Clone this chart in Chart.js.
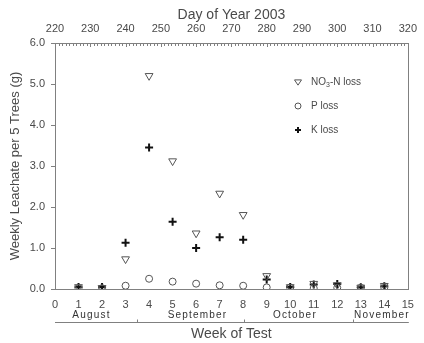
<!DOCTYPE html>
<html><head><meta charset="utf-8">
<script src="https://cdn.jsdelivr.net/npm/chart.js@4.4.0/dist/chart.umd.min.js"></script>
<style>html,body{margin:0;padding:0;background:#fff}#wrap{width:424px;height:343px}</style>
</head><body><div id="wrap"><canvas id="c" width="424" height="343"></canvas></div>
<script>
const weeks = [1,2,3,4,5,6,7,8,9,10,11,12,13,14];
const no3Loss = [0.05,0.03,0.73,5.2,3.12,1.36,2.33,1.81,0.32,0.05,0.13,0.1,0.04,0.08];
const pLoss   = [0.02,0.02,0.08,0.25,0.18,0.13,0.09,0.08,0.04,0.03,0.02,0.03,0.03,0.03];
const kLoss   = [0.05,0.05,1.13,3.45,1.64,1.0,1.26,1.2,0.23,0.05,0.11,0.12,0.04,0.07];
const seriesLabels = ['NO₃-N loss','P loss','K loss'];
const yTicks = [0,1,2,3,4,5,6];
const dayTicks = [220,230,240,250,260,270,280,290,300,310,320];
const months = ['August','September','October','November'];
const monthCenters = [1.55,6.06,10.2,13.9];
const monthDividers = [3.47,8.02,12.66];

const AXIS = '#808080', TEXT = '#4a4a4a', FONT = "'Liberation Sans', Arial, sans-serif";

const pts = arr => weeks.map((w,i)=>({x:w,y:arr[i]}));

const extras = {
  id:'extras',
  afterDraw(chart){
    const ctx = chart.ctx, a = chart.chartArea;
    const x = chart.scales.x, x2 = chart.scales.x2;
    ctx.save();
    ctx.strokeStyle = AXIS; ctx.lineWidth = 1;
    ctx.strokeRect(Math.round(a.left)+0.5, Math.round(a.top)+0.5, Math.round(a.right-a.left), Math.round(a.bottom-a.top));
    ctx.beginPath();
    for (let d = dayTicks[0]; d <= dayTicks[dayTicks.length-1]; d++) {
      const px = Math.round(x2.getPixelForValue(d))+0.5;
      const len = d % 10 === 0 ? 4 : 3;
      ctx.moveTo(px, a.top); ctx.lineTo(px, a.top+len);
    }
    ctx.stroke();
    ctx.fillStyle = '#333';
    ctx.font = "10px " + FONT;
    try { ctx.letterSpacing = '1.2px'; } catch(e){}
    ctx.textAlign = 'center'; ctx.textBaseline = 'middle';
    months.forEach((m,i)=>ctx.fillText(m, x.getPixelForValue(monthCenters[i]), 315));
    try { ctx.letterSpacing = '0px'; } catch(e){}
    const ly = 322.5;
    ctx.beginPath();
    ctx.moveTo(a.left, ly); ctx.lineTo(a.right+1, ly);
    monthDividers.forEach(w=>{ const px = Math.round(x.getPixelForValue(w))+0.5; ctx.moveTo(px, ly); ctx.lineTo(px, ly-3); });
    ctx.stroke();
    const rows = [82,106,130], mx = 298, tx = 311;
    chart.data.datasets.forEach((ds,i)=>{
      const y = rows[i];
      ctx.strokeStyle = ds.borderColor; ctx.lineWidth = ds.borderWidth;
      ctx.beginPath();
      if (ds.pointStyle === 'triangle') {
        const r = 3.5;
        ctx.moveTo(mx - r, y - r*0.6); ctx.lineTo(mx + r, y - r*0.6); ctx.lineTo(mx, y + r*0.9); ctx.closePath();
      } else if (ds.pointStyle === 'circle') {
        ctx.arc(mx, y, 3, 0, Math.PI*2);
      } else {
        ctx.moveTo(mx-3, y); ctx.lineTo(mx+3, y); ctx.moveTo(mx, y-3); ctx.lineTo(mx, y+3);
      }
      ctx.stroke();
      ctx.fillStyle = TEXT; ctx.textAlign = 'left'; ctx.textBaseline = 'middle';
      const lbl = ds.label;
      const k = lbl.indexOf('₃');
      ctx.font = "10px " + FONT;
      if (k >= 0) {
        const p1 = lbl.slice(0,k), p2 = lbl.slice(k+1);
        ctx.fillText(p1, tx, y);
        let w1 = ctx.measureText(p1).width;
        ctx.font = "7px " + FONT;
        ctx.fillText('3', tx + w1, y + 3);
        const w2 = ctx.measureText('3').width;
        ctx.font = "10px " + FONT;
        ctx.fillText(p2, tx + w1 + w2, y);
      } else {
        ctx.fillText(lbl, tx, y);
      }
    });
    ctx.restore();
  }
};

new Chart(document.getElementById('c'), {
  type: 'scatter',
  data: {
    datasets: [
      { label: seriesLabels[0], data: pts(no3Loss), pointStyle:'triangle', rotation:180, radius:4.5, borderColor:'#555', backgroundColor:'rgba(0,0,0,0)', borderWidth:1 },
      { label: seriesLabels[1], data: pts(pLoss), pointStyle:'circle', radius:3.5, borderColor:'#555', backgroundColor:'rgba(0,0,0,0)', borderWidth:1 },
      { label: seriesLabels[2], data: pts(kLoss), pointStyle:'cross', radius:4, borderColor:'#111', backgroundColor:'#111', borderWidth:2 }
    ]
  },
  options: {
    responsive:false, animation:false, devicePixelRatio:1,
    layout:{ padding:{ left:0, right:10, top:0, bottom:0 } },
    plugins:{ legend:{display:false}, tooltip:{enabled:false} },
    elements:{ point:{ hoverRadius:4 } },
    scales:{
      x:{
        type:'linear', position:'bottom', min:0, max:15,
        afterBuildTicks: s => { s.ticks = Array.from({length:16},(_,i)=>({value:i})); },
        grid:{ display:false, drawTicks:false },
        border:{ display:true, color:AXIS },
        ticks:{ color:TEXT, font:{family:FONT, size:11}, padding:9, autoSkip:false, maxRotation:0 },
        title:{ display:true, text:'Week of Test', color:TEXT, font:{family:FONT, size:14}, padding:{top:0,bottom:0} },
        afterFit: s => { s.height = 54; }
      },
      x2:{
        type:'linear', position:'top', min:220, max:320,
        afterBuildTicks: s => { s.ticks = dayTicks.map(v=>({value:v})); },
        grid:{ display:false, drawTicks:false },
        border:{ display:true, color:AXIS },
        ticks:{ color:TEXT, font:{family:FONT, size:11}, padding:7, autoSkip:false, maxRotation:0 },
        title:{ display:true, text:'Day of Year 2003', color:TEXT, font:{family:FONT, size:14}, padding:{top:7,bottom:0} },
        afterFit: s => { s.height = 43; }
      },
      y:{
        type:'linear', min:0, max:6,
        afterBuildTicks: s => { s.ticks = yTicks.map(v=>({value:v})); },
        grid:{ drawOnChartArea:false, drawTicks:true, tickLength:4, color:AXIS },
        border:{ display:true, color:AXIS },
        ticks:{ color:TEXT, font:{family:FONT, size:11}, padding:6, callback: v => v.toFixed(1) },
        title:{ display:true, text:'Weekly Leachate per 5 Trees (g)', color:TEXT, font:{family:FONT, size:13}, padding:{top:8,bottom:0} },
        afterFit: s => { s.width = 55; }
      }
    }
  },
  plugins:[extras]
});
</script></body></html>
